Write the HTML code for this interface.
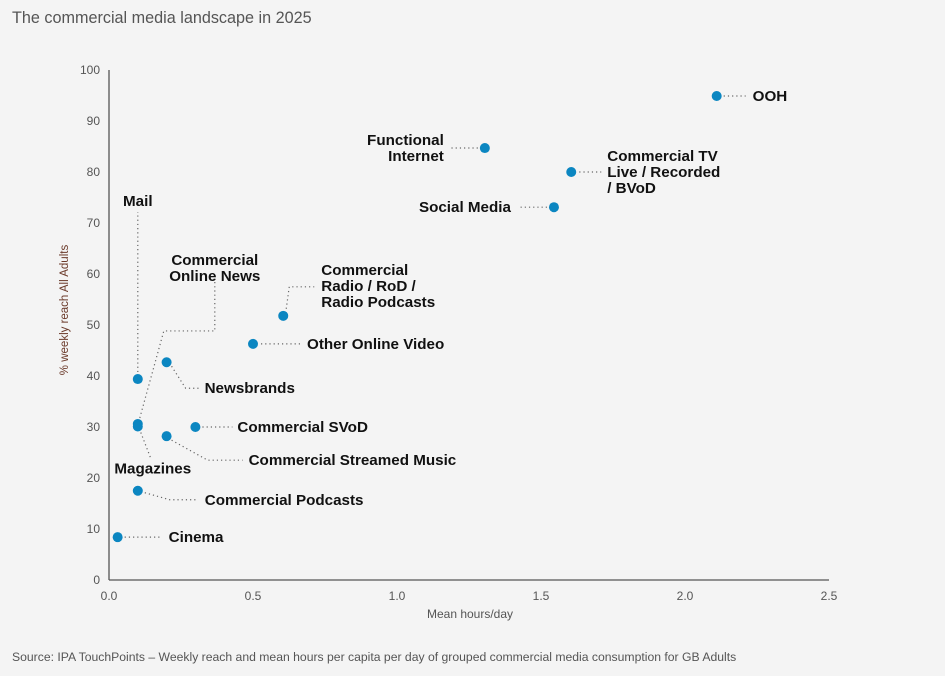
<!DOCTYPE html>
<html><head><meta charset="utf-8"><style>
body{margin:0;background:#f4f4f4;width:945px;height:679px;overflow:hidden;font-family:"Liberation Sans",sans-serif}
svg{display:block}
.t{font-size:12px;fill:#555}
.lb{font-size:15.2px;font-weight:bold;fill:#111}
.ld{fill:none;stroke:#666;stroke-width:1.2;stroke-dasharray:1.2 3}
</style></head><body>
<svg id="c" width="945" height="679">
<rect x="0" y="676" width="945" height="3" fill="#fff"/>
<text x="12" y="23" font-size="16.2" fill="#555">The commercial media landscape in 2025</text>
<g id="axes"></g>
<g id="leaders"></g>
<g id="pts"></g>
<g id="labels"></g>
<text x="12" y="661" font-size="12.2" fill="#555">Source: IPA TouchPoints – Weekly reach and mean hours per capita per day of grouped commercial media consumption for GB Adults</text>
</svg>
<script>
const names=["OOH","Functional Internet","Commercial TV","Social Media","Commercial Radio","Other Online Video","Newsbrands","Mail","Commercial Online News","Magazines","Commercial SVoD","Commercial Streamed Music","Commercial Podcasts","Cinema"];
const hours=[2.11,1.305,1.605,1.545,0.605,0.5,0.2,0.1,0.1,0.1,0.3,0.2,0.1,0.03];
const reach=[94.9,84.7,80,73.1,51.8,46.3,42.7,39.4,30.6,30.1,30,28.2,17.5,8.4];
const xTicks=[0,0.5,1,1.5,2,2.5];
const xTickLabels=["0.0","0.5","1.0","1.5","2.0","2.5"];
const yTicks=[0,10,20,30,40,50,60,70,80,90,100];
const X=v=>109+v*288, Y=v=>580-v*5.1;
const NS="http://www.w3.org/2000/svg";
function mk(tag,attrs,parent,txt){const e=document.createElementNS(NS,tag);for(const k in attrs)e.setAttribute(k,attrs[k]);if(txt!=null)e.textContent=txt;document.getElementById(parent).appendChild(e);return e;}
let e;
e=mk("line",{x1:X(0),y1:Y(0),x2:X(2.5),y2:Y(0),stroke:"#555","stroke-width":1.3},"axes");


e=mk("line",{x1:X(0),y1:Y(0),x2:X(0),y2:Y(100),stroke:"#555","stroke-width":1.3},"axes");


xTicks.forEach((t,i)=>{e=mk("text",{x:X(t),y:600,"text-anchor":"middle",class:"t"},"axes",xTickLabels[i]);

});
yTicks.forEach(t=>{e=mk("text",{x:100,y:Y(t)+4,"text-anchor":"end",class:"t"},"axes",String(t));

});
e=mk("text",{x:470,y:618,"text-anchor":"middle",class:"t"},"axes","Mean hours/day");


e=mk("text",{x:0,y:0,"text-anchor":"middle",transform:"translate(68,310) rotate(-90)","font-size":"11.5",fill:"#6b3a2a"},"axes","% weekly reach All Adults");


const lay=[
 {l:[[7,0],[29,0]],tx:36,ty:0,a:"start",lines:["OOH"]},
 {l:[[-7,0],[-35,0]],tx:-41,ty:-8,a:"end",lines:["Functional","Internet"]},
 {l:[[8,0],[30,0]],tx:36,ty:-16,a:"start",lines:["Commercial TV","Live / Recorded","/ BVoD"]},
 {l:[[-7,0],[-36,0]],tx:-43,ty:0,a:"end",lines:["Social Media"]},
 {l:[[3,-7],[6,-29],[31,-29]],tx:38,ty:-46,a:"start",lines:["Commercial","Radio / RoD /","Radio Podcasts"]},
 {l:[[8,0],[47,0]],tx:54,ty:0,a:"start",lines:["Other Online Video"]},
 {l:[[5,4],[19,26],[32,26]],tx:38,ty:26,a:"start",lines:["Newsbrands"]},
 {l:[[0,-7],[0,-167]],tx:0,ty:-178,a:"middle",lines:["Mail"]},
 {l:[[2,-6],[26,-93],[77,-93],[77,-143]],tx:77,ty:-164,a:"middle",lines:["Commercial","Online News"]},
 {l:[[3,6],[13,32]],tx:15,ty:42,a:"middle",lines:["Magazines"]},
 {l:[[7,0],[37,0]],tx:42,ty:0,a:"start",lines:["Commercial SVoD"]},
 {l:[[5,4],[41,24],[76,24]],tx:82,ty:24,a:"start",lines:["Commercial Streamed Music"]},
 {l:[[7,2],[32,9],[60,9]],tx:67,ty:9,a:"start",lines:["Commercial Podcasts"]},
 {l:[[7,0],[44,0]],tx:51,ty:0,a:"start",lines:["Cinema"]}
];
names.forEach((n,i)=>{
 const px=X(hours[i]),py=Y(reach[i]),L=lay[i];
 e=mk("polyline",{points:L.l.map(p=>(px+p[0])+","+(py+p[1])).join(" "),class:"ld"},"leaders");
 
 
 e=mk("circle",{cx:px,cy:py,r:5,fill:"#0b86c1"},"pts");
 
 
 L.lines.forEach((s,j)=>{e=mk("text",{x:px+L.tx,y:py+L.ty+j*16+5,"text-anchor":L.a,class:"lb"},"labels",s);
 
 });
});
</script>
</body></html>
